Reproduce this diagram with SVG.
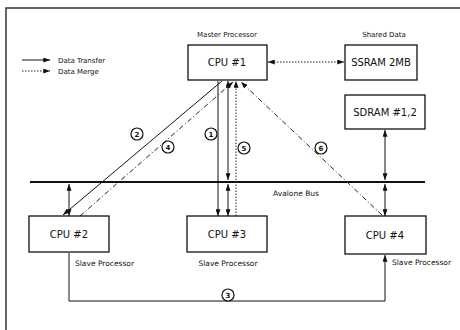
<svg xmlns="http://www.w3.org/2000/svg" width="460" height="330" viewBox="0 0 460 330">
<style>
text{font-family:"DejaVu Sans","Liberation Sans",sans-serif;fill:#111}
.box{fill:#fff;stroke:#111;stroke-width:1.3}
.lbl{font-size:10px;text-anchor:middle}
.sm{font-size:7.5px}
.ln{fill:none;stroke:#111;stroke-width:1}
.dot{fill:none;stroke:#222;stroke-width:1;stroke-dasharray:1.5 1.5}
.dd{fill:none;stroke:#222;stroke-width:1;stroke-dasharray:5 2.5 1 2.5}
.num circle{fill:#fff;stroke:#111;stroke-width:1.2}
.num text{font-size:7px;font-weight:bold;text-anchor:middle}
</style>
<defs>
<marker id="a" viewBox="0 0 8 6" refX="8" refY="3" markerWidth="7" markerHeight="5" markerUnits="userSpaceOnUse" orient="auto-start-reverse">
<path d="M0,0 L8,3 L0,6 Z" fill="#111"/>
</marker>
</defs>
<rect width="460" height="330" fill="#fff"/>
<path d="M6,330 V8 H460" fill="none" stroke="#333" stroke-width="1.5"/>
<g id="legend">
<path class="ln" d="M22,60 H50" marker-end="url(#a)"/>
<text class="sm" x="58" y="62.5" style="font-size:7px">Data Transfer</text>
<path class="dot" d="M22,71 H50" marker-end="url(#a)"/>
<text class="sm" x="58" y="73.5" style="font-size:7px">Data Merge</text>
</g>
<g id="connectors">
<path d="M30,182 H425" stroke="#111" stroke-width="2"/>
<text class="sm" x="273" y="196">Avalone Bus</text>
<path class="ln" d="M218,81 V216" marker-end="url(#a)"/>
<path class="ln" d="M228,81 V180" marker-start="url(#a)" marker-end="url(#a)"/>
<path class="ln" d="M228,184 V216" marker-start="url(#a)" marker-end="url(#a)"/>
<path class="dot" d="M236,216 V81" marker-end="url(#a)"/>
<path class="ln" d="M222,81 L63,215" marker-end="url(#a)"/>
<path class="dd" d="M80,216 L233,82" marker-end="url(#a)"/>
<path class="dd" d="M382,215 L241,82" marker-end="url(#a)"/>
<path class="dot" d="M268,62 H344" marker-start="url(#a)" marker-end="url(#a)"/>
<path class="ln" d="M385,130 V180" marker-start="url(#a)" marker-end="url(#a)"/>
<path class="ln" d="M385,184 V216" marker-start="url(#a)" marker-end="url(#a)"/>
<path class="ln" d="M69,184 V216" marker-start="url(#a)" marker-end="url(#a)"/>
<path class="ln" d="M69,253 V301 H385 V255" marker-end="url(#a)"/>
<g class="num"><circle cx="211" cy="134" r="6"/><text x="211" y="136.5">1</text></g>
<g class="num"><circle cx="137" cy="134" r="6"/><text x="137" y="136.5">2</text></g>
<g class="num"><circle cx="228" cy="295" r="6"/><text x="228" y="297.5">3</text></g>
<g class="num"><circle cx="168" cy="147" r="6"/><text x="168" y="149.5">4</text></g>
<g class="num"><circle cx="244" cy="148" r="6"/><text x="244" y="150.5">5</text></g>
<g class="num"><circle cx="321" cy="148" r="6"/><text x="321" y="150.5">6</text></g>
</g>
<g id="cpu1">
<text class="sm" x="227" y="37" text-anchor="middle" style="font-size:7px">Master Processor</text>
<rect class="box" x="188" y="45" width="79" height="35"/>
<text class="lbl" x="227" y="66">CPU #1</text>
</g>
<g id="ssram">
<text class="sm" x="384" y="37" text-anchor="middle" style="font-size:7px">Shared Data</text>
<rect class="box" x="345" y="45" width="72" height="35"/>
<text class="lbl" x="381" y="66">SSRAM 2MB</text>
</g>
<g id="sdram">
<rect class="box" x="345" y="95" width="80" height="34"/>
<text class="lbl" x="385" y="115.5">SDRAM #1,2</text>
</g>
<g id="cpu2">
<rect class="box" x="29" y="216" width="80" height="36"/>
<text class="lbl" x="69" y="237.5">CPU #2</text>
<text class="sm" x="75" y="266">Slave Processor</text>
</g>
<g id="cpu3">
<rect class="box" x="187" y="216" width="80" height="36"/>
<text class="lbl" x="227" y="237.5">CPU #3</text>
<text class="sm" x="228" y="266" text-anchor="middle">Slave Processor</text>
</g>
<g id="cpu4">
<rect class="box" x="345" y="216" width="81" height="38"/>
<text class="lbl" x="385" y="238.5">CPU #4</text>
<text class="sm" x="392" y="265">Slave Processor</text>
</g>
</svg>
